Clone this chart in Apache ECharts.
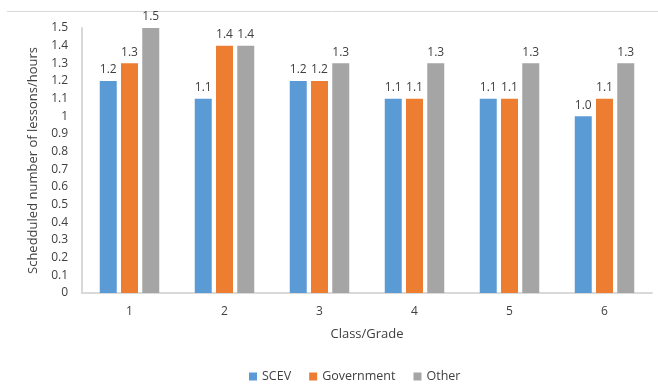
<!DOCTYPE html>
<html>
<head>
<meta charset="utf-8">
<script src="https://cdn.jsdelivr.net/npm/echarts@6/dist/echarts.min.js"></script>
<style>
  html, body { margin: 0; padding: 0; background: #ffffff; }
  #chart { width: 658px; height: 390px; }
</style>
</head>
<body>
<div id="chart"></div>
<script>
// Scheduled lessons per class/grade, by school type
const grades = ['1', '2', '3', '4', '5', '6'];
const scev = [1.2, 1.1, 1.2, 1.1, 1.1, 1.0];
const government = [1.3, 1.4, 1.2, 1.1, 1.1, 1.1];
const other = [1.5, 1.4, 1.3, 1.3, 1.3, 1.3];

const FONT = '"Open Sans", "Liberation Sans", sans-serif';
const TEXT = '#404040';
const LINE = '#d9d9d9';

function barSeries(name, data, color) {
  return {
    name: name,
    type: 'bar',
    data: data,
    barWidth: 17,
    barGap: '25%',
    itemStyle: { color: color },
    label: {
      show: true,
      position: 'top',
      distance: 5,
      color: TEXT,
      fontFamily: FONT,
      fontSize: 12,
      formatter: p => p.value.toFixed(1)
    }
  };
}

const chart = echarts.init(document.getElementById('chart'), null, { renderer: 'canvas' });
chart.setOption({
  animation: false,
  backgroundColor: '#ffffff',
  textStyle: { fontFamily: FONT },
  graphic: [{
    type: 'line',
    shape: { x1: 7, y1: 11.5, x2: 658, y2: 11.5 },
    style: { stroke: LINE, lineWidth: 1 }
  }],
  grid: { left: 82, right: 6, top: 28, bottom: 97 },
  legend: {
    left: 244,
    top: 365,
    itemWidth: 8,
    itemHeight: 8,
    itemGap: 18,
    icon: 'rect',
    textStyle: { color: TEXT, fontFamily: FONT, fontSize: 12.5 },
    data: ['SCEV', 'Government', 'Other']
  },
  xAxis: {
    type: 'category',
    data: grades,
    name: 'Class/Grade',
    nameLocation: 'middle',
    nameGap: 35,
    nameTextStyle: { color: TEXT, fontFamily: FONT, fontSize: 13 },
    axisLine: { show: true, lineStyle: { color: LINE, width: 2 } },
    axisTick: { show: false },
    axisLabel: { color: TEXT, fontFamily: FONT, fontSize: 12, margin: 13 }
  },
  yAxis: {
    type: 'value',
    min: 0,
    max: 1.5,
    interval: 0.1,
    name: 'Schedduled number of lessons/hours',
    nameLocation: 'middle',
    nameGap: 37,
    nameTextStyle: { color: TEXT, fontFamily: FONT, fontSize: 13 },
    axisLine: { show: true, lineStyle: { color: LINE, width: 2 } },
    axisTick: { show: false },
    splitLine: { show: false },
    axisLabel: {
      color: TEXT, fontFamily: FONT, fontSize: 12, margin: 14,
      formatter: v => String(+v.toFixed(1))
    }
  },
  series: [
    barSeries('SCEV', scev, '#5b9bd5'),
    barSeries('Government', government, '#ed7d31'),
    barSeries('Other', other, '#a5a5a5')
  ]
});
</script>
</body>
</html>
